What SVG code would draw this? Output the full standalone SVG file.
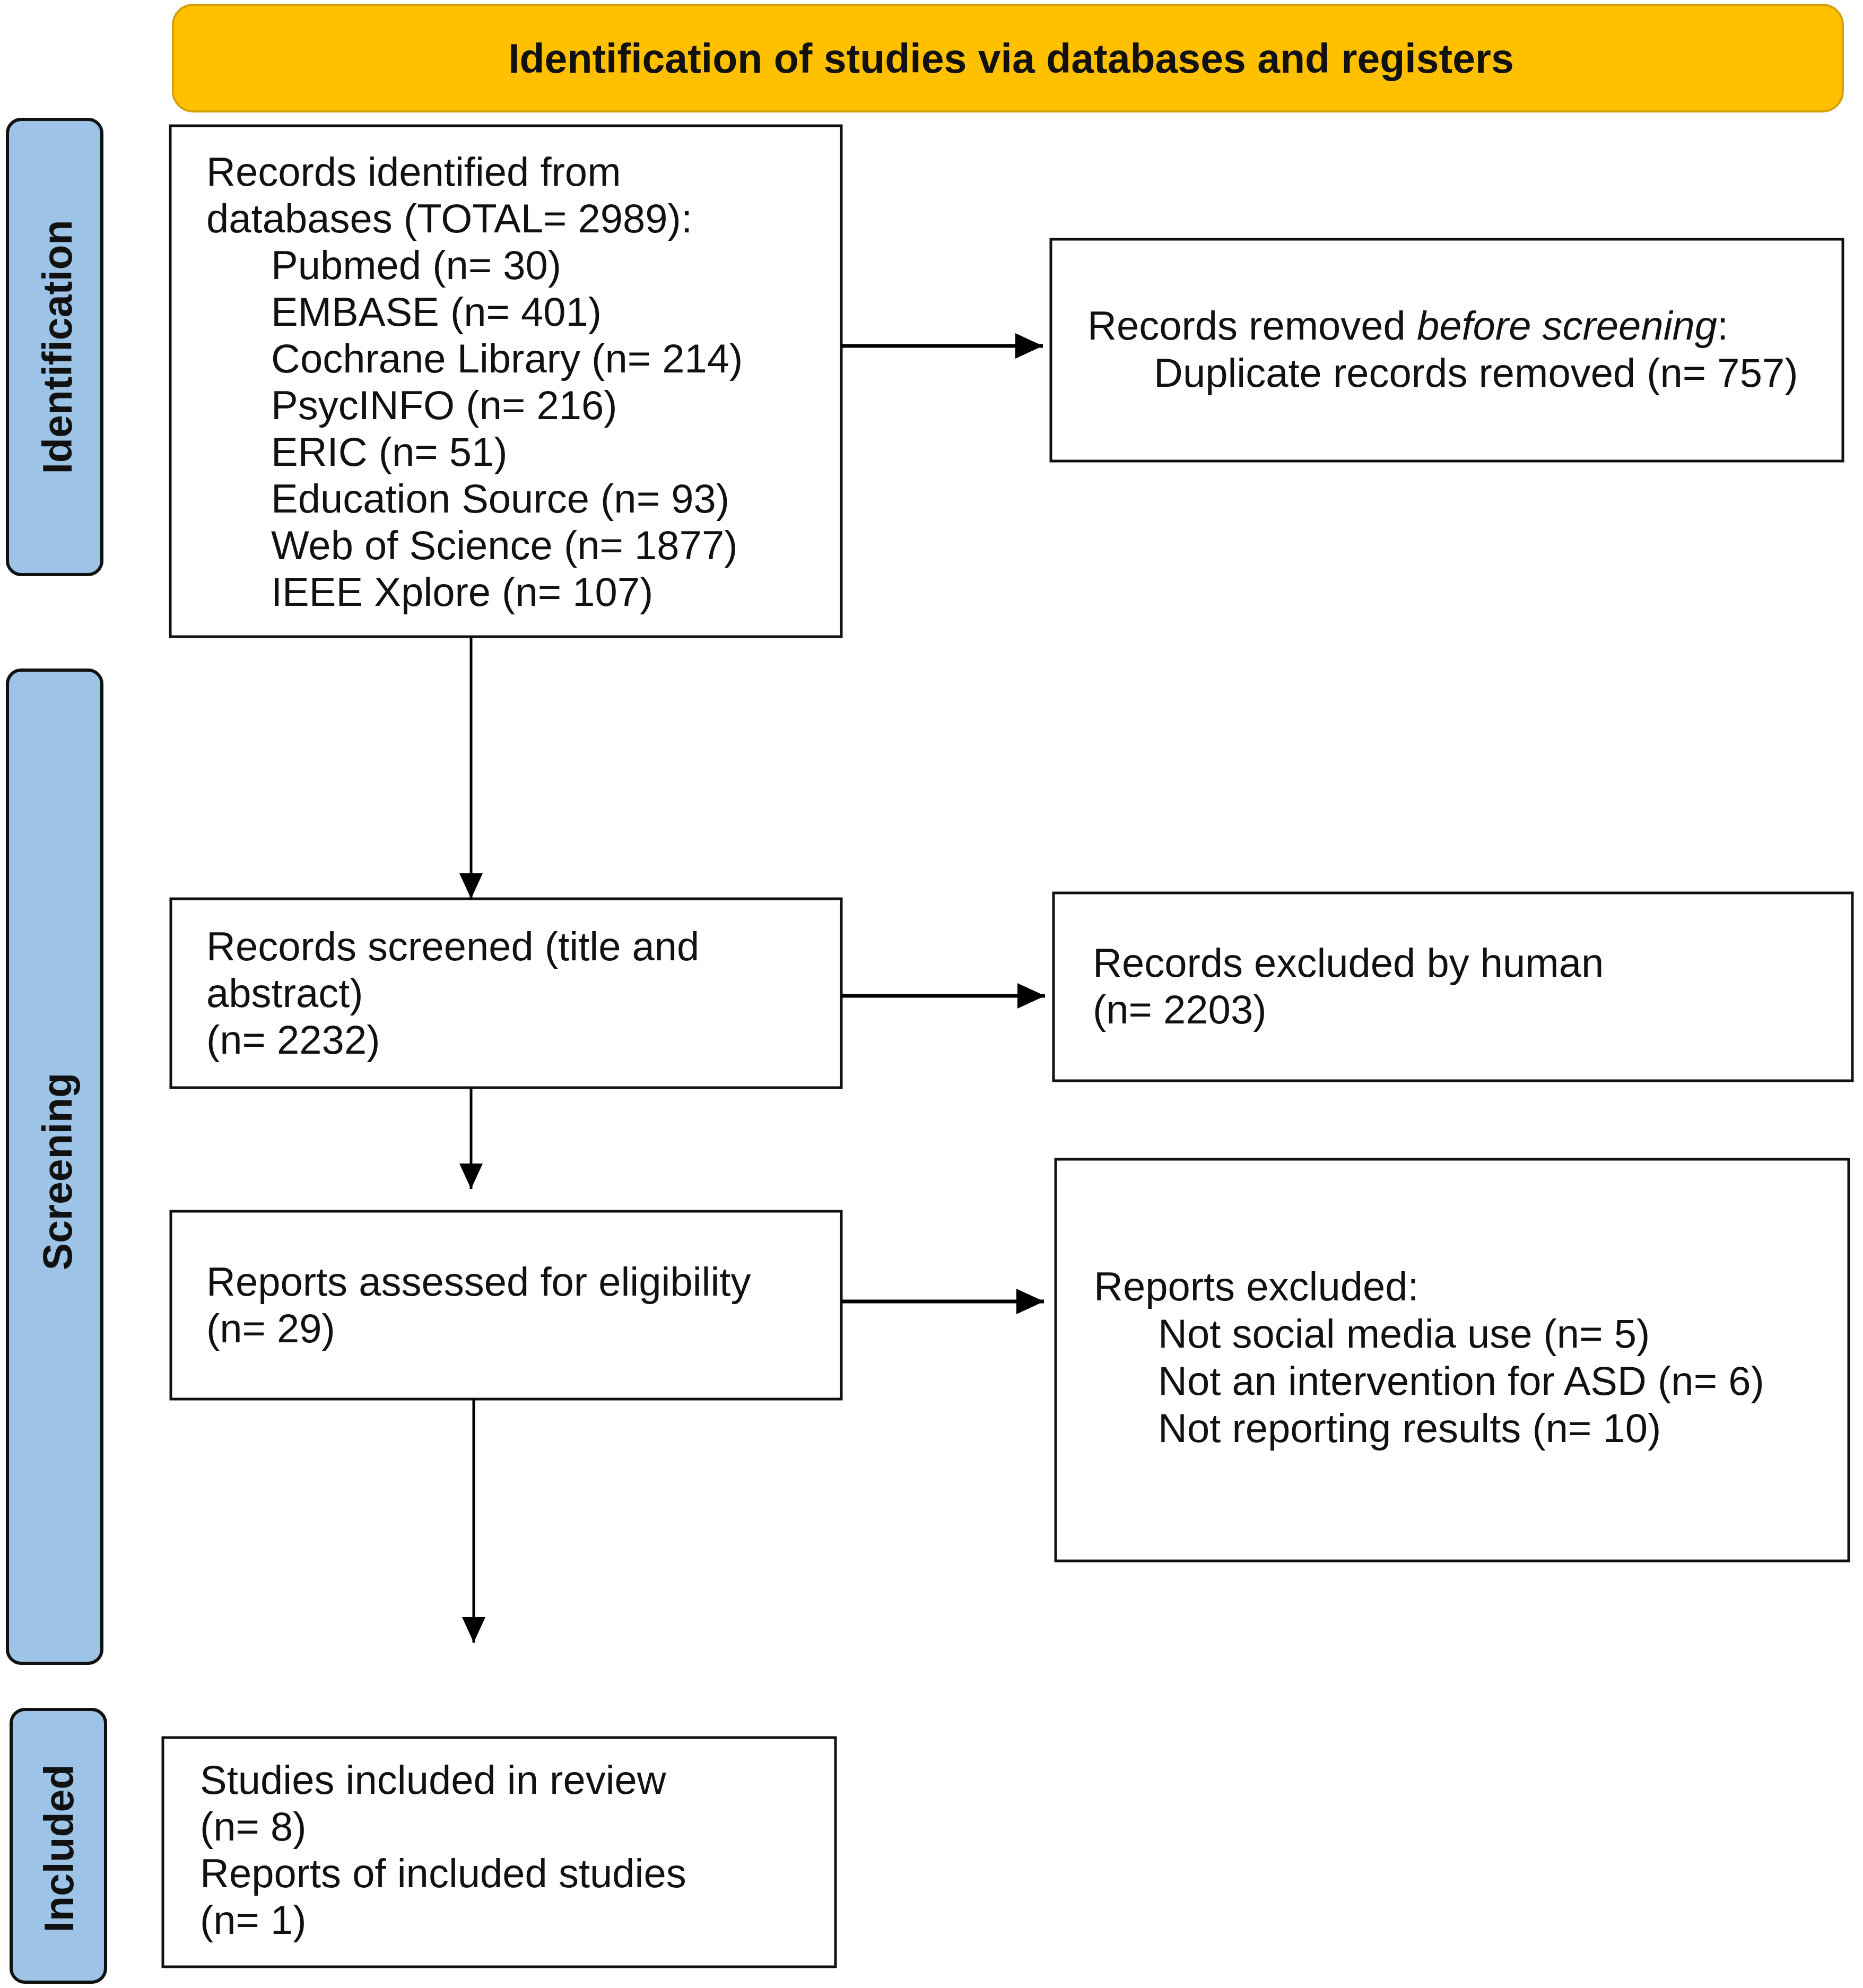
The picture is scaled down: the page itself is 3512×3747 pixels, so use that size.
<svg xmlns="http://www.w3.org/2000/svg" width="3512" height="3747" viewBox="0 0 3512 3747">
<style>
text{font-family:"Liberation Sans",Arial,sans-serif;fill:#111}
.t{font-size:76px}
.side{font-size:77px;font-weight:bold;text-anchor:middle}
.box{fill:#fff;stroke:#111;stroke-width:5}
.bar{fill:#9DC3E6;stroke:#111;stroke-width:6}
.h{stroke:#000;stroke-width:7;fill:none}
.v{stroke:#000;stroke-width:5;fill:none}
</style>
<defs>
<marker id="ah" markerUnits="userSpaceOnUse" markerWidth="54" markerHeight="50" refX="52" refY="25" orient="auto">
<path d="M0,1 L52,25 L0,49 Z" fill="#000"/>
</marker>
<marker id="av" markerUnits="userSpaceOnUse" markerWidth="50" markerHeight="46" refX="48" refY="23" orient="auto">
<path d="M0,1 L48,23 L0,45 Z" fill="#000"/>
</marker>
</defs>
<rect width="3512" height="3747" fill="#fff"/>
<g id="header">
<rect x="326" y="9" width="3148" height="201" rx="38" fill="#FFC000" stroke="#D2A00A" stroke-width="4"/>
<text x="1906" y="137" font-size="77" font-weight="bold" text-anchor="middle">Identification of studies via databases and registers</text>
</g>
<g id="stage-identification">
<rect class="bar" x="14" y="225" width="178" height="858" rx="26"/>
<text class="side" transform="translate(135,654) rotate(-90)">Identification</text>
</g>
<g id="stage-screening">
<rect class="bar" x="14" y="1263" width="178" height="1872" rx="26"/>
<text class="side" transform="translate(135,2208) rotate(-90)">Screening</text>
</g>
<g id="stage-included">
<rect class="bar" x="21" y="3222" width="178" height="514" rx="26"/>
<text class="side" transform="translate(138,3484) rotate(-90)">Included</text>
</g>
<g id="n-identified">
<rect class="box" x="321" y="237" width="1265" height="963"/>
<text class="t" x="389" y="350">Records identified from</text>
<text class="t" x="389" y="438">databases (TOTAL= 2989):</text>
<text class="t" x="511" y="526">Pubmed (n= 30)</text>
<text class="t" x="511" y="614">EMBASE (n= 401)</text>
<text class="t" x="511" y="702">Cochrane Library (n= 214)</text>
<text class="t" x="511" y="790">PsycINFO (n= 216)</text>
<text class="t" x="511" y="878">ERIC (n= 51)</text>
<text class="t" x="511" y="966">Education Source (n= 93)</text>
<text class="t" x="511" y="1054">Web of Science (n= 1877)</text>
<text class="t" x="511" y="1142">IEEE Xplore (n= 107)</text>
</g>
<g id="n-removed">
<rect class="box" x="1981" y="451" width="1493" height="418"/>
<text class="t" x="2050" y="640">Records removed <tspan font-style="italic">before screening</tspan>:</text>
<text class="t" x="2175" y="729">Duplicate records removed (n= 757)</text>
</g>
<g id="n-screened">
<rect class="box" x="322" y="1694" width="1264" height="356"/>
<text class="t" x="389" y="1810">Records screened (title and</text>
<text class="t" x="389" y="1898">abstract)</text>
<text class="t" x="389" y="1986">(n= 2232)</text>
</g>
<g id="n-excluded-human">
<rect class="box" x="1986" y="1683" width="1506" height="354"/>
<text class="t" x="2060" y="1841">Records excluded by human</text>
<text class="t" x="2060" y="1929">(n= 2203)</text>
</g>
<g id="n-assessed">
<rect class="box" x="322" y="2283" width="1264" height="354"/>
<text class="t" x="389" y="2442">Reports assessed for eligibility</text>
<text class="t" x="389" y="2530">(n= 29)</text>
</g>
<g id="n-reports-excluded">
<rect class="box" x="1990" y="2185" width="1495" height="757"/>
<text class="t" x="2062" y="2451">Reports excluded:</text>
<text class="t" x="2183" y="2540">Not social media use (n= 5)</text>
<text class="t" x="2183" y="2629">Not an intervention for ASD (n= 6)</text>
<text class="t" x="2183" y="2718">Not reporting results (n= 10)</text>
</g>
<g id="n-included">
<rect class="box" x="307" y="3275" width="1268" height="432"/>
<text class="t" x="377" y="3381">Studies included in review</text>
<text class="t" x="377" y="3469">(n= 8)</text>
<text class="t" x="377" y="3557">Reports of included studies</text>
<text class="t" x="377" y="3645">(n= 1)</text>
</g>
<g id="connectors">
<line class="h" x1="1586" y1="652" x2="1966" y2="652" marker-end="url(#ah)"/>
<line class="v" x1="888" y1="1200" x2="888" y2="1694" marker-end="url(#av)"/>
<line class="h" x1="1586" y1="1877" x2="1970" y2="1877" marker-end="url(#ah)"/>
<line class="v" x1="888" y1="2050" x2="888" y2="2241" marker-end="url(#av)"/>
<line class="h" x1="1586" y1="2453" x2="1968" y2="2453" marker-end="url(#ah)"/>
<line class="v" x1="893" y1="2637" x2="893" y2="3096" marker-end="url(#av)"/>
</g>
</svg>
